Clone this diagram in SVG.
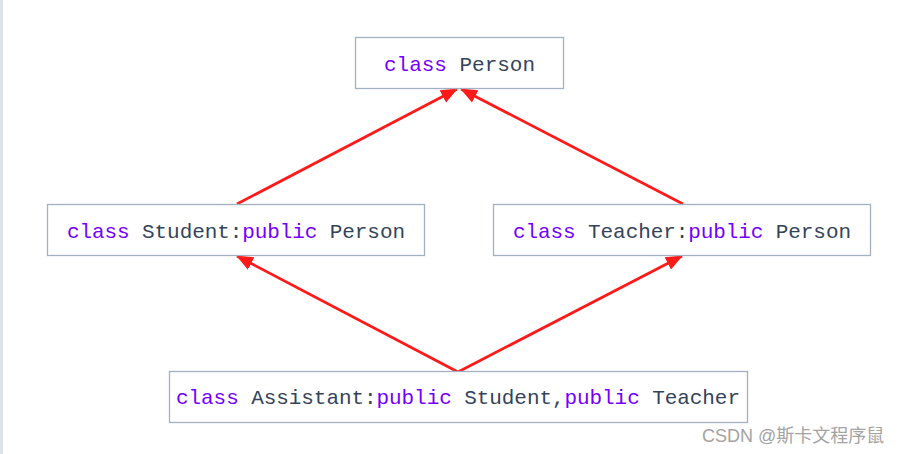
<svg xmlns="http://www.w3.org/2000/svg" width="907" height="454" viewBox="0 0 907 454">
<style>
.box{fill:#ffffff;stroke:#a3b0c2;stroke-width:1.3}
.t{font-family:"Liberation Mono","DejaVu Sans Mono",monospace;font-size:21px;fill:#33445a}
.k{fill:#7300ff}
.e{stroke:#ff1a1a;stroke-width:2.7;fill:none;marker-end:url(#ah)}
.wm{font-family:"Liberation Sans","Noto Sans CJK SC",sans-serif;font-size:18px;fill:#a3a3a3}
</style>
<defs>
<marker id="ah" markerUnits="userSpaceOnUse" markerWidth="18" markerHeight="18" viewBox="0 0 18 18" refX="16" refY="9" orient="auto">
<path d="M0,2 L17,9 L0,16 Z" fill="#ff1a1a"/>
</marker>
</defs>
<rect x="0" y="0" width="907" height="454" fill="#ffffff"/>
<rect x="0" y="0" width="3" height="454" fill="#dfe3e8"/>
<g id="connectors">
<line class="e" x1="237" y1="204" x2="457" y2="89"/>
<line class="e" x1="683" y1="204" x2="461" y2="89"/>
<line class="e" x1="458" y1="372" x2="237" y2="256"/>
<line class="e" x1="458" y1="372" x2="682" y2="256"/>
</g>
<g id="person">
<rect class="box" x="355.5" y="37.5" width="208" height="51"/>
<text class="t" x="384" y="71" textLength="151" lengthAdjust="spacing"><tspan class="k">class</tspan> Person</text>
</g>
<g id="student">
<rect class="box" x="47.5" y="204.5" width="377" height="51"/>
<text class="t" x="67" y="238" textLength="338" lengthAdjust="spacing"><tspan class="k">class</tspan> Student:<tspan class="k">public</tspan> Person</text>
</g>
<g id="teacher">
<rect class="box" x="493.5" y="204.5" width="377" height="51"/>
<text class="t" x="513" y="238" textLength="338" lengthAdjust="spacing"><tspan class="k">class</tspan> Teacher:<tspan class="k">public</tspan> Person</text>
</g>
<g id="assistant">
<rect class="box" x="169.5" y="371.5" width="578" height="51"/>
<text class="t" x="176" y="404" textLength="564" lengthAdjust="spacing"><tspan class="k">class</tspan> Assistant:<tspan class="k">public</tspan> Student,<tspan class="k">public</tspan> Teacher</text>
</g>
<text class="wm" x="702" y="442">CSDN @斯卡文程序鼠</text>
</svg>
